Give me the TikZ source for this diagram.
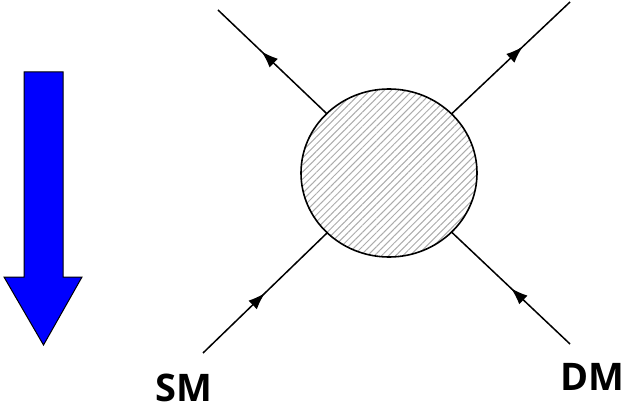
\documentclass[tikz,border=0pt]{standalone}
\usepackage{fontspec}
\newfontfamily\labelfont{Open Sans}
\usetikzlibrary{shapes.geometric,patterns.meta,decorations.markings,arrows.meta}

\begin{document}
\begin{tikzpicture}[x=1pt,y=-1pt,
  leg/.style={line width=1.5pt, postaction={decorate},
    decoration={markings, mark=at position #1 with {\arrow{Latex[length=17pt,width=12pt]}}}},
  leg/.default=0.6,
  blob/.style={ellipse, draw, line width=1.6pt, minimum width=176pt, minimum height=168pt,
    inner sep=0pt, pattern={Lines[angle=45,distance=5pt,line width=1pt]}, pattern color=gray!65},
  lbl/.style={font=\labelfont\bfseries\fontsize{38}{40}\selectfont, inner sep=0pt}]
  \useasboundingbox (0,0) rectangle (628,411);

  % big blue arrow
  \filldraw[fill={rgb,255:red,0;green,0;blue,255}, draw=black, line width=1pt]
    (24,72) -- (63,72) -- (63,277) -- (82,277) -- (43.5,345) -- (4,277) -- (24,277) -- cycle;

  \node[blob] (blob) at (389,173) {};

  \coordinate (ul) at (218,10);
  \coordinate (ur) at (570,2);
  \coordinate (ll) at (203,353);
  \coordinate (lr) at (570,344);

  \draw[leg] (blob) -- (ul);
  \draw[leg] (blob) -- (ur);
  \draw[leg=0.5] (ll) -- (blob);
  \draw[leg=0.5] (lr) -- (blob);

  \node[lbl] (sm) at (184,388) {SM};
  \node[lbl] (dm) at (592,377) {DM};
\end{tikzpicture}
\end{document}
